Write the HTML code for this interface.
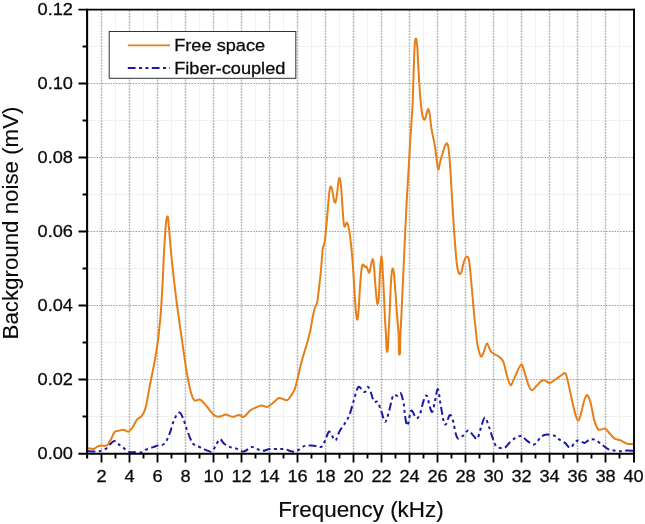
<!DOCTYPE html>
<html><head><meta charset="utf-8"><title>Background noise</title>
<style>html,body{margin:0;padding:0;background:#fff}body{width:645px;height:524px;position:relative;overflow:hidden}</style>
</head><body>
<svg width="645" height="524" viewBox="0 0 645 524" style="position:absolute;left:0;top:0">
<path d="M115.5,10V453M143.5,10V453M171.5,10V453M199.5,10V453M227.5,10V453M255.5,10V453M283.5,10V453M311.5,10V453M339.5,10V453M367.5,10V453M395.5,10V453M423.5,10V453M451.5,10V453M479.5,10V453M507.5,10V453M535.5,10V453M563.5,10V453M591.5,10V453M619.5,10V453M88,416.5H634M88,342.5H634M88,268.5H634M88,194.5H634M88,120.5H634M88,46.5H634" stroke="#f1f1f1" stroke-width="1" fill="none"/>
<path d="M101.5,10V453M129.5,10V453M157.5,10V453M185.5,10V453M213.5,10V453M241.5,10V453M269.5,10V453M297.5,10V453M325.5,10V453M353.5,10V453M381.5,10V453M409.5,10V453M437.5,10V453M465.5,10V453M493.5,10V453M521.5,10V453M549.5,10V453M577.5,10V453M605.5,10V453" stroke="#b6b6b6" stroke-width="1.5" stroke-dasharray="1.9 1" fill="none"/>
<path d="M88,379.5H634M88,305.5H634M88,231.5H634M88,157.5H634M88,83.5H634" stroke="#a4a4a4" stroke-width="1.2" stroke-dasharray="1.6 1.2" fill="none"/>
<path d="M87.5,451.1C88.7,451.2 92.9,451.6 94.9,451.6C97.0,451.6 98.0,451.6 99.9,451.1C101.7,450.6 104.4,449.7 106.1,448.6C107.7,447.5 108.4,445.9 109.8,444.6C111.2,443.4 112.8,441.0 114.3,440.9C115.7,440.8 117.0,443.0 118.5,444.1C120.0,445.3 121.8,446.6 123.5,447.9C125.1,449.1 126.6,450.8 128.4,451.6C130.3,452.3 132.4,452.2 134.6,452.3C136.9,452.4 140.0,452.6 142.1,452.1C144.1,451.5 145.2,449.9 147.0,449.1C148.9,448.3 151.4,447.7 153.2,447.1C155.1,446.5 156.3,446.0 158.2,445.4C160.1,444.8 162.5,445.5 164.4,443.6C166.3,441.8 167.7,438.3 169.4,434.2C171.0,430.2 172.7,423.0 174.3,419.3C176.0,415.7 177.8,412.6 179.3,412.4C180.7,412.2 181.8,415.3 183.0,418.1C184.3,420.9 185.3,425.3 186.7,429.3C188.2,433.2 190.3,439.0 191.7,441.7C193.1,444.4 193.8,444.4 195.4,445.4C197.1,446.4 199.8,447.0 201.6,447.9C203.5,448.7 204.9,449.7 206.6,450.3C208.2,451.0 210.1,452.2 211.6,451.6C213.0,451.0 213.9,448.7 215.3,446.6C216.6,444.6 218.3,439.7 219.7,439.2C221.2,438.7 222.4,442.4 224.0,443.6C225.5,444.9 226.9,445.8 228.9,446.6C231.0,447.5 233.9,447.8 236.4,448.6C238.8,449.4 241.3,451.8 243.8,451.6C246.3,451.3 249.1,447.6 251.2,447.1C253.3,446.6 254.3,448.0 256.2,448.6C258.0,449.2 260.1,450.8 262.4,450.8C264.6,450.9 267.3,449.4 269.8,449.1C272.3,448.8 274.8,449.1 277.3,449.1C279.7,449.1 282.2,448.7 284.7,449.1C287.2,449.5 290.1,451.3 292.1,451.6C294.2,451.9 295.0,451.8 297.1,450.8C299.2,449.9 302.3,446.7 304.6,445.9C306.8,445.0 308.7,445.6 310.8,445.6C312.8,445.7 315.1,446.0 317.0,446.1C318.8,446.3 320.5,447.8 321.9,446.6C323.4,445.5 324.5,441.7 325.6,439.2C326.8,436.7 327.8,432.4 328.9,431.7C329.9,431.1 330.7,434.0 331.8,435.5C333.0,436.9 334.3,441.0 335.6,440.4C336.8,439.8 337.8,434.4 339.3,431.7C340.7,429.0 342.6,427.0 344.3,424.3C345.9,421.6 347.6,419.5 349.2,415.6C350.8,411.7 352.2,405.4 353.7,400.7C355.1,396.0 356.6,389.5 357.9,387.6C359.2,385.6 360.5,388.3 361.6,389.1C362.8,389.8 363.8,392.4 364.9,392.0C365.9,391.7 366.9,387.3 367.8,387.1C368.7,386.9 369.3,388.4 370.3,390.8C371.3,393.2 372.8,399.6 374.0,401.5C375.3,403.3 376.5,400.2 377.8,402.0C379.0,403.7 380.2,408.6 381.5,411.9C382.7,415.2 384.0,421.8 385.2,421.8C386.4,421.8 387.6,416.2 388.9,411.9C390.2,407.5 391.7,398.4 393.1,395.8C394.6,393.1 396.3,396.2 397.6,395.8C398.9,395.3 399.8,391.8 400.8,393.3C401.9,394.7 403.1,400.7 403.8,404.4C404.5,408.2 404.4,412.1 405.0,415.6C405.6,419.1 406.4,426.4 407.5,425.5C408.5,424.7 409.8,411.9 411.2,410.6C412.7,409.4 414.7,417.5 416.2,418.1C417.6,418.7 418.6,417.3 419.9,414.4C421.1,411.5 422.5,403.8 423.6,400.7C424.8,397.6 425.8,394.7 426.8,395.8C427.9,396.8 428.9,404.2 429.8,406.9C430.7,409.6 431.5,412.7 432.3,411.9C433.1,411.1 433.9,405.8 434.8,402.0C435.7,398.2 436.8,389.1 437.8,389.1C438.7,389.1 439.3,396.7 440.2,402.0C441.2,407.2 442.5,416.8 443.5,420.6C444.4,424.3 444.9,425.2 445.9,424.3C447.0,423.4 448.5,415.9 449.7,415.1C450.8,414.3 451.6,416.1 452.6,419.3C453.7,422.5 454.9,431.0 455.9,434.2C456.8,437.4 457.1,438.5 458.3,438.7C459.6,438.9 461.7,436.8 463.3,435.5C465.0,434.1 466.6,430.5 468.3,430.5C469.9,430.5 471.7,434.1 473.2,435.5C474.8,436.8 476.0,440.3 477.5,438.4C478.9,436.6 480.6,427.8 481.9,424.3C483.2,420.8 483.9,417.0 485.1,417.6C486.4,418.2 488.0,424.4 489.4,428.0C490.7,431.6 491.8,436.1 493.1,439.2C494.3,442.3 495.0,445.2 496.8,446.6C498.7,448.1 502.2,448.5 504.3,447.9C506.3,447.2 507.4,444.6 509.2,442.9C511.1,441.2 513.4,439.1 515.4,437.9C517.5,436.8 519.8,435.5 521.6,436.0C523.5,436.4 524.5,439.0 526.6,440.4C528.7,441.9 531.8,445.1 534.0,444.6C536.3,444.2 538.4,439.6 540.2,437.9C542.1,436.3 542.9,435.1 545.2,434.7C547.5,434.3 551.6,434.7 553.9,435.5C556.2,436.2 557.0,437.9 558.8,439.2C560.7,440.4 563.2,441.5 565.0,442.9C566.9,444.4 568.5,447.9 570.1,447.9C571.7,447.9 573.2,444.1 574.6,442.9C575.9,441.7 576.6,440.4 578.3,440.4C579.9,440.4 582.6,443.0 584.5,442.9C586.3,442.8 587.6,440.2 589.4,439.7C591.3,439.2 593.6,439.1 595.6,439.9C597.7,440.8 599.8,443.1 601.8,444.6C603.9,446.2 606.0,448.1 608.1,449.1C610.1,450.1 612.2,450.2 614.3,450.6C616.3,451.0 618.4,451.3 620.5,451.3C622.5,451.3 624.5,450.7 626.7,450.6C628.9,450.5 632.5,450.8 633.6,450.8" stroke="#1b1aa8" stroke-width="2" stroke-dasharray="7.8 3.4 3 3.4 3 3.4" fill="none" stroke-linejoin="round"/>
<path d="M87.7,448.6C88.2,448.6 89.5,448.5 90.5,448.6C91.5,448.7 92.5,449.1 93.4,449.0C94.3,448.9 94.9,448.2 95.8,447.7C96.7,447.2 97.6,446.4 98.6,446.0C99.5,445.6 100.5,445.6 101.5,445.6C102.5,445.6 103.5,445.9 104.4,445.8C105.4,445.7 106.4,445.8 107.2,445.2C108.0,444.6 108.6,443.3 109.2,442.3C109.8,441.3 110.1,440.9 111.1,439.2C112.0,437.4 113.3,433.2 114.8,431.7C116.2,430.3 118.3,430.8 119.7,430.5C121.2,430.2 122.0,429.5 123.5,429.8C124.9,430.0 127.0,432.0 128.4,431.7C129.9,431.4 130.7,430.1 132.1,428.0C133.6,425.9 135.5,421.4 137.1,419.3C138.8,417.3 140.6,417.7 142.1,415.6C143.5,413.5 144.5,412.1 145.8,406.9C147.1,401.8 148.6,392.0 150.0,384.6C151.5,377.1 153.2,369.3 154.5,362.3C155.8,355.2 156.9,347.9 157.7,342.4C158.5,336.9 158.7,333.8 159.2,329.1C159.7,324.4 160.1,321.2 160.7,314.2C161.2,307.2 161.9,296.8 162.4,286.9C163.0,277.0 163.4,264.6 163.9,254.6C164.4,244.7 165.2,233.4 165.6,227.3C166.1,221.3 166.3,220.3 166.6,218.4C166.9,216.5 167.1,216.2 167.4,216.2C167.6,216.2 167.9,216.5 168.1,218.4C168.4,220.3 168.5,222.5 168.9,227.3C169.3,232.1 169.9,239.7 170.6,247.2C171.3,254.6 172.1,263.3 173.1,272.0C174.0,280.7 175.3,291.0 176.3,299.3C177.3,307.6 178.2,313.6 179.3,321.6C180.4,329.6 181.8,338.9 183.0,347.4C184.3,355.8 185.5,364.9 186.7,372.2C188.0,379.4 189.2,386.1 190.5,390.8C191.7,395.5 192.7,398.8 194.2,400.2C195.7,401.7 198.0,399.0 199.6,399.5C201.3,400.0 202.5,401.5 204.1,403.2C205.7,404.9 207.4,407.4 209.1,409.4C210.7,411.4 212.6,413.9 214.0,415.1C215.5,416.4 216.5,416.7 217.8,416.8C219.0,417.0 220.2,416.5 221.5,416.1C222.8,415.7 224.2,414.4 225.7,414.4C227.1,414.4 228.8,415.7 230.2,416.1C231.5,416.5 232.4,417.1 233.9,416.8C235.3,416.6 237.2,414.9 238.8,414.9C240.5,414.9 242.0,417.6 243.8,416.8C245.7,416.1 247.9,412.2 250.0,410.6C252.0,409.1 254.2,408.3 256.2,407.4C258.2,406.6 260.0,405.5 261.9,405.4C263.7,405.4 265.4,407.4 267.3,406.9C269.3,406.4 271.7,403.9 273.5,402.5C275.4,401.0 277.1,398.9 278.5,398.2C279.9,397.6 280.8,398.4 282.2,398.7C283.7,399.1 285.7,400.7 287.2,400.2C288.6,399.7 289.7,397.5 290.9,395.8C292.1,394.0 293.5,392.4 294.6,389.6C295.7,386.7 296.4,383.3 297.6,378.4C298.8,373.4 300.5,365.6 302.1,359.8C303.6,354.0 305.6,348.8 307.0,343.6C308.4,338.5 309.7,333.2 310.6,329.1C311.4,325.0 311.6,322.7 312.3,319.1C313.0,315.6 313.9,310.9 314.8,308.0C315.6,305.1 316.4,306.1 317.3,301.8C318.1,297.4 319.1,287.2 319.7,281.9C320.4,276.6 320.5,275.5 321.0,270.0C321.5,264.6 322.1,253.9 322.7,249.2C323.3,244.5 324.0,246.3 324.7,241.7C325.4,237.2 326.1,228.5 326.7,221.9C327.3,215.3 327.9,207.4 328.4,202.0C328.9,196.7 329.2,192.2 329.7,189.6C330.1,187.1 330.7,186.2 331.2,186.7C331.7,187.1 332.1,189.8 332.6,192.1C333.1,194.5 333.6,199.1 334.1,200.8C334.6,202.4 335.1,203.3 335.6,202.0C336.1,200.8 336.6,196.9 337.1,193.3C337.6,189.8 338.1,183.4 338.6,180.9C339.1,178.5 339.4,177.0 339.8,178.5C340.3,179.9 340.8,184.0 341.3,189.6C341.8,195.2 342.4,206.0 342.8,212.0C343.3,218.0 343.6,223.3 344.1,225.6C344.5,227.9 344.8,226.1 345.3,225.6C345.8,225.1 346.4,222.0 347.0,222.6C347.7,223.3 348.4,225.7 349.0,229.3C349.7,232.9 350.3,237.4 351.0,244.2C351.7,251.0 352.6,260.8 353.2,270.0C353.9,279.2 354.5,291.9 355.0,299.3C355.5,306.7 355.8,310.8 356.2,314.2C356.6,317.6 357.0,320.5 357.5,319.6C357.9,318.8 358.2,315.1 358.7,309.2C359.2,303.3 359.6,291.4 360.2,284.4C360.7,277.4 361.4,270.3 361.9,267.0C362.5,263.7 362.9,264.6 363.4,264.6C363.9,264.6 364.4,266.7 364.9,267.0C365.4,267.4 365.9,265.9 366.4,266.5C366.9,267.2 367.6,269.8 368.1,270.8C368.6,271.7 368.9,273.5 369.4,272.5C369.9,271.5 370.6,266.8 371.1,264.6C371.6,262.3 372.1,259.1 372.6,259.1C373.0,259.1 373.4,260.3 373.8,264.6C374.3,268.8 374.8,278.4 375.3,284.4C375.8,290.4 376.4,297.3 376.8,300.5C377.2,303.8 377.5,304.4 377.8,303.8C378.1,303.1 378.4,302.1 378.8,296.8C379.2,291.5 379.6,278.7 380.0,272.0C380.5,265.3 380.9,257.4 381.3,256.6C381.7,255.8 382.1,261.2 382.5,267.0C382.9,272.9 383.3,283.2 383.8,291.8C384.2,300.5 384.6,311.9 385.0,319.1C385.4,326.3 385.7,330.1 386.0,335.0C386.2,339.9 386.3,345.7 386.5,348.5C386.7,351.3 387.0,352.0 387.2,352.0C387.4,352.0 387.7,351.3 387.9,348.5C388.1,345.7 388.2,341.2 388.5,335.0C388.8,328.9 389.3,320.6 389.7,311.7C390.1,302.8 390.5,289.0 391.0,281.9C391.4,274.8 391.9,270.5 392.4,269.0C392.9,267.6 393.4,269.4 393.9,273.2C394.4,277.0 394.9,284.6 395.4,291.8C396.0,299.1 396.6,309.5 397.2,316.7C397.7,323.9 398.4,329.2 398.6,335.0C398.9,340.8 398.8,348.2 398.9,351.5C399.0,354.8 399.3,354.8 399.5,354.8C399.7,354.8 400.0,354.8 400.1,351.5C400.2,348.2 400.1,341.7 400.4,335.0C400.6,328.4 401.1,322.2 401.6,311.7C402.1,301.2 402.7,285.6 403.4,272.0C404.0,258.3 405.0,236.8 405.3,229.8C405.7,222.8 405.1,235.1 405.3,230.0C405.6,224.9 406.3,209.3 406.8,199.3C407.4,189.2 408.0,179.4 408.6,169.5C409.2,159.6 409.7,149.6 410.3,139.7C410.9,129.8 411.9,116.7 412.3,109.9C412.7,103.2 412.5,106.4 412.8,99.3C413.0,92.1 413.5,76.1 413.8,67.0C414.1,57.9 414.4,49.5 414.8,44.7C415.1,39.9 415.6,38.1 416.0,38.5C416.4,38.9 416.8,42.0 417.3,47.2C417.7,52.4 418.0,61.2 418.5,69.5C419.0,77.8 419.6,89.4 420.2,96.8C420.9,104.3 421.6,110.4 422.2,114.2C422.9,118.0 423.6,119.2 424.2,119.6C424.8,120.1 425.4,118.1 425.9,116.7C426.4,115.3 426.8,112.4 427.2,111.2C427.6,110.0 428.0,108.7 428.4,109.2C428.8,109.7 429.2,111.3 429.7,114.2C430.1,117.1 430.8,124.0 431.2,126.6C431.5,129.2 431.3,127.8 431.7,129.8C432.0,131.8 432.8,135.6 433.4,138.5C434.0,141.4 434.6,143.6 435.1,147.1C435.7,150.7 436.1,155.8 436.6,159.6C437.2,163.3 437.8,169.1 438.3,169.5C438.9,169.9 439.4,164.7 440.1,162.0C440.8,159.3 441.7,156.0 442.6,153.3C443.4,150.7 444.3,147.6 445.0,145.9C445.8,144.3 446.5,143.0 447.0,143.4C447.6,143.8 448.0,144.9 448.5,148.4C449.0,151.9 449.5,157.7 450.0,164.5C450.5,171.3 451.0,180.6 451.5,189.3C452.0,198.0 452.9,210.7 453.2,216.6C453.6,222.5 453.3,218.9 453.7,224.9C454.1,230.8 455.1,244.9 455.7,252.1C456.3,259.4 456.8,264.6 457.5,268.3C458.1,271.9 458.8,273.4 459.4,274.0C460.1,274.6 460.8,273.6 461.4,272.0C462.0,270.4 462.6,266.7 463.2,264.6C463.7,262.4 464.3,260.4 464.9,259.1C465.5,257.8 466.2,256.5 466.9,256.6C467.5,256.7 468.3,256.6 468.9,259.6C469.5,262.6 470.0,268.3 470.6,274.5C471.2,280.7 472.0,289.8 472.6,296.8C473.2,303.8 473.7,310.3 474.3,316.7C475.0,323.0 475.8,330.3 476.3,335.0C476.8,339.7 476.7,341.4 477.5,344.9C478.2,348.4 479.7,354.6 480.7,356.1C481.6,357.5 482.1,355.6 483.2,353.6C484.2,351.5 485.6,344.1 486.9,343.6C488.1,343.2 489.4,349.4 490.6,351.1C491.8,352.8 493.1,353.2 494.3,354.1C495.6,354.9 496.6,354.9 498.1,356.1C499.5,357.2 501.6,357.9 503.0,361.0C504.5,364.1 505.5,370.7 506.7,374.7C508.0,378.7 509.2,384.5 510.5,385.1C511.7,385.7 512.4,381.8 514.2,378.4C515.9,375.0 519.2,366.0 520.9,364.7C522.5,363.5 522.9,367.6 524.1,370.9C525.3,374.3 527.0,381.4 528.3,384.6C529.6,387.8 530.7,390.1 532.0,390.3C533.4,390.5 534.9,387.4 536.5,385.8C538.1,384.3 540.0,381.8 541.5,380.9C542.9,380.0 543.8,380.0 545.2,380.4C546.6,380.7 548.2,382.9 549.7,382.9C551.1,382.9 552.4,381.3 553.9,380.4C555.4,379.4 557.5,378.1 558.8,377.1C560.2,376.2 561.1,375.3 562.1,374.7C563.2,374.0 564.3,372.0 565.4,373.4C566.4,374.9 567.2,378.8 568.3,383.3C569.5,387.9 570.8,395.3 572.1,400.7C573.3,406.1 574.8,412.3 575.8,415.6C576.8,418.9 577.4,420.8 578.3,420.6C579.1,420.4 579.7,417.9 580.8,414.4C581.8,410.9 583.4,402.7 584.5,399.5C585.6,396.3 586.4,394.6 587.5,395.3C588.5,395.9 589.5,399.0 590.7,403.2C591.8,407.4 593.2,416.2 594.4,420.6C595.6,424.9 596.9,427.8 598.1,429.3C599.4,430.7 600.6,429.3 601.8,429.3C603.1,429.2 604.3,428.1 605.6,428.8C606.8,429.4 607.8,431.4 609.3,433.0C610.7,434.6 612.4,437.2 614.3,438.4C616.1,439.7 618.4,439.6 620.5,440.4C622.5,441.3 625.0,443.0 626.7,443.6C628.3,444.3 629.2,444.1 630.4,444.1C631.5,444.1 633.1,443.7 633.6,443.6" stroke="#e77f19" stroke-width="2" fill="none" stroke-linejoin="round"/>
<path d="M78.4,9.55H634.9" stroke="#000" stroke-width="1.7" fill="none"/>
<path d="M634,8.7V462.6" stroke="#000" stroke-width="1.9" fill="none"/>
<path d="M87.1,8.7V458.5" stroke="#000" stroke-width="2.1" fill="none"/>
<path d="M78.4,453.7H634.9" stroke="#000" stroke-width="1.9" fill="none"/>
<path d="M82.6,416.5H87M78.5,379.5H87M82.6,342.5H87M78.5,305.5H87M82.6,268.5H87M78.5,231.5H87M82.6,194.5H87M78.5,157.5H87M82.6,120.5H87M78.5,83.5H87M82.6,46.5H87M101.5,453V462.6M115.5,453V458.4M129.5,453V462.6M143.5,453V458.4M157.5,453V462.6M171.5,453V458.4M185.5,453V462.6M199.5,453V458.4M213.5,453V462.6M227.5,453V458.4M241.5,453V462.6M255.5,453V458.4M269.5,453V462.6M283.5,453V458.4M297.5,453V462.6M311.5,453V458.4M325.5,453V462.6M339.5,453V458.4M353.5,453V462.6M367.5,453V458.4M381.5,453V462.6M395.5,453V458.4M409.5,453V462.6M423.5,453V458.4M437.5,453V462.6M451.5,453V458.4M465.5,453V462.6M479.5,453V458.4M493.5,453V462.6M507.5,453V458.4M521.5,453V462.6M535.5,453V458.4M549.5,453V462.6M563.5,453V458.4M577.5,453V462.6M591.5,453V458.4M605.5,453V462.6M619.5,453V458.4" stroke="#000" stroke-width="1.85" fill="none"/>
<rect x="109.2" y="31.5" width="186.6" height="46.8" fill="#fff" stroke="#333" stroke-width="1"/>
<path d="M127.8,45.4H170" stroke="#e77f19" stroke-width="1.9" fill="none"/>
<path d="M127.8,68H170" stroke="#1b1aa8" stroke-width="2.1" stroke-dasharray="7.8 3.4 3 3.4 3 3.4" fill="none"/>
<g font-family="'Liberation Sans', sans-serif" fill="#0a0a0a" stroke="#0a0a0a" stroke-width="0.3">
<text transform="translate(174.2,51.4) scale(1,0.92)" font-size="18.2" text-anchor="start">Free space</text>
<text transform="translate(174.2,74.2) scale(1,0.92)" font-size="18.2" text-anchor="start">Fiber-coupled</text>
<text transform="translate(72.9,458.5) scale(1,0.92)" font-size="18.2" text-anchor="end">0.00</text>
<text transform="translate(72.9,384.5) scale(1,0.92)" font-size="18.2" text-anchor="end">0.02</text>
<text transform="translate(72.9,310.5) scale(1,0.92)" font-size="18.2" text-anchor="end">0.04</text>
<text transform="translate(72.9,236.5) scale(1,0.92)" font-size="18.2" text-anchor="end">0.06</text>
<text transform="translate(72.9,162.5) scale(1,0.92)" font-size="18.2" text-anchor="end">0.08</text>
<text transform="translate(72.9,88.5) scale(1,0.92)" font-size="18.2" text-anchor="end">0.10</text>
<text transform="translate(72.9,14.5) scale(1,0.92)" font-size="18.2" text-anchor="end">0.12</text>
<text transform="translate(101.5,481.6) scale(1,0.92)" font-size="18.2" text-anchor="middle">2</text>
<text transform="translate(129.5,481.6) scale(1,0.92)" font-size="18.2" text-anchor="middle">4</text>
<text transform="translate(157.5,481.6) scale(1,0.92)" font-size="18.2" text-anchor="middle">6</text>
<text transform="translate(185.5,481.6) scale(1,0.92)" font-size="18.2" text-anchor="middle">8</text>
<text transform="translate(213.5,481.6) scale(1,0.92)" font-size="18.2" text-anchor="middle">10</text>
<text transform="translate(241.5,481.6) scale(1,0.92)" font-size="18.2" text-anchor="middle">12</text>
<text transform="translate(269.5,481.6) scale(1,0.92)" font-size="18.2" text-anchor="middle">14</text>
<text transform="translate(297.5,481.6) scale(1,0.92)" font-size="18.2" text-anchor="middle">16</text>
<text transform="translate(325.5,481.6) scale(1,0.92)" font-size="18.2" text-anchor="middle">18</text>
<text transform="translate(353.5,481.6) scale(1,0.92)" font-size="18.2" text-anchor="middle">20</text>
<text transform="translate(381.5,481.6) scale(1,0.92)" font-size="18.2" text-anchor="middle">22</text>
<text transform="translate(409.5,481.6) scale(1,0.92)" font-size="18.2" text-anchor="middle">24</text>
<text transform="translate(437.5,481.6) scale(1,0.92)" font-size="18.2" text-anchor="middle">26</text>
<text transform="translate(465.5,481.6) scale(1,0.92)" font-size="18.2" text-anchor="middle">28</text>
<text transform="translate(493.5,481.6) scale(1,0.92)" font-size="18.2" text-anchor="middle">30</text>
<text transform="translate(521.5,481.6) scale(1,0.92)" font-size="18.2" text-anchor="middle">32</text>
<text transform="translate(549.5,481.6) scale(1,0.92)" font-size="18.2" text-anchor="middle">34</text>
<text transform="translate(577.5,481.6) scale(1,0.92)" font-size="18.2" text-anchor="middle">36</text>
<text transform="translate(605.5,481.6) scale(1,0.92)" font-size="18.2" text-anchor="middle">38</text>
<text transform="translate(633.5,481.6) scale(1,0.92)" font-size="18.2" text-anchor="middle">40</text>
<text transform="translate(360.9,517.0) scale(1,0.97)" font-size="22.4" text-anchor="middle" stroke-width="0.2">Frequency (kHz)</text>
<text transform="translate(18.2,223.0) rotate(-90) scale(1,0.98)" font-size="22.3" text-anchor="middle" stroke-width="0.1">Background noise (mV)</text>
</g>
</svg>
</body></html>
